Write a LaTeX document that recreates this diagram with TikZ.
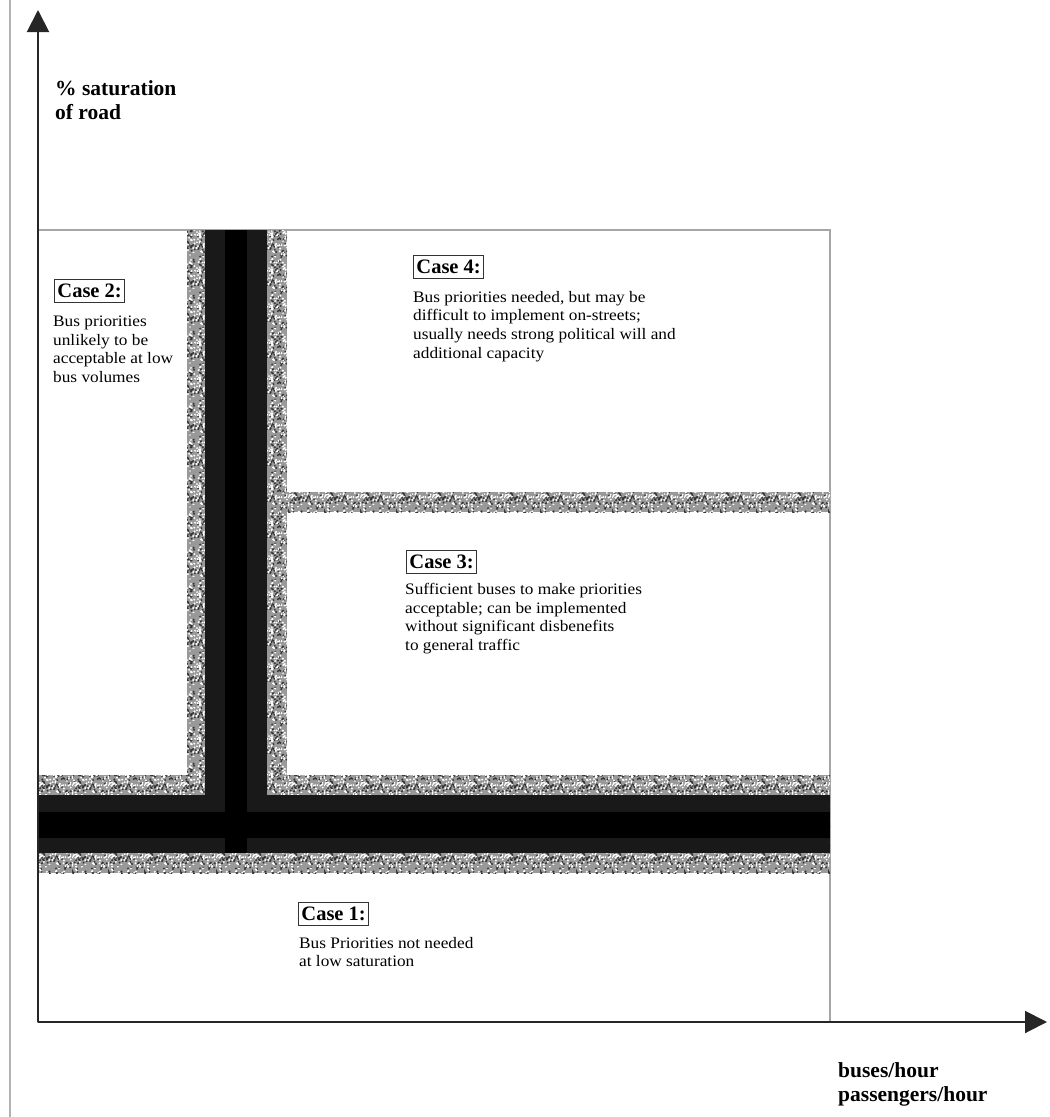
\documentclass[tikz,border=0pt]{standalone}
\usepackage{fontspec}
\setmainfont{Liberation Serif}
\newfontfamily\bodyfont[FakeStretch=1.08]{Liberation Serif}
\usetikzlibrary{arrows.meta,patterns}
\pgfmathsetseed{11}
\pgfdeclarepatternformonly{speckleB}{\pgfpointorigin}{\pgfpoint{36pt}{36pt}}{\pgfpoint{36pt}{36pt}}{%
  \foreach \i in {1,...,110}{%
    \pgfmathsetmacro\px{rnd*36}%
    \pgfmathsetmacro\py{rnd*36}%
    \pgfpathcircle{\pgfpoint{\px pt}{\py pt}}{1.1pt}%
  }%
  \pgfusepath{fill}}
\pgfdeclarepatternformonly{speckleW}{\pgfpointorigin}{\pgfpoint{36pt}{36pt}}{\pgfpoint{36pt}{36pt}}{%
  \foreach \i in {1,...,100}{%
    \pgfmathsetmacro\px{rnd*36}%
    \pgfmathsetmacro\py{rnd*36}%
    \pgfpathcircle{\pgfpoint{\px pt}{\py pt}}{1.1pt}%
  }%
  \pgfusepath{fill}}
\begin{document}
\begin{tikzpicture}[x=1pt,y=-1pt,
  axis/.style={line width=2pt, black!85, -{Triangle[length=22pt,width=22pt]}},
  frame/.style={draw=gray!70, line width=1.2pt},
  stipple/.style={preaction={fill=gray!80}, preaction={pattern=speckleB, pattern color=black!80}, pattern=speckleW, pattern color=white},
  core/.style={fill=black!90},
  casebox/.style={draw=black!80, line width=0.9pt, inner xsep=3pt, inner ysep=4pt,
    text height=14pt, text depth=1pt,
    font=\fontsize{20.5}{22}\selectfont\bfseries, anchor=north west},
  body/.style={font=\bodyfont\fontsize{16}{18.6}\selectfont, align=left, anchor=north west, inner sep=0pt},
  axlabel/.style={font=\fontsize{21.5}{24}\selectfont\bfseries, align=left, anchor=north west, inner sep=0pt}]
\useasboundingbox (0,0) rectangle (1050,1117);
% scan edge line
\draw[gray!60, line width=1.5pt] (10,0) -- (10,1117);
% frame
\draw[frame] (38,230) rectangle (830,1022);
% stippled bands
\path[stipple] (187,230) rectangle (287,873);
\path[stipple] (38,775) rectangle (830,873);
\path[stipple] (287,492) rectangle (830,512);
% dark cores
\fill[core] (205,230) rectangle (267,853);
\fill[core] (38,795) rectangle (830,853);
\fill[black] (225,230) rectangle (247,853);
\fill[black] (38,812) rectangle (830,838);
% axes
\coordinate (O) at (38,1022);
\coordinate (ytop) at (38,10);
\coordinate (xend) at (1047,1022);
\draw[axis] (O) -- (ytop);
\draw[axis] (O) -- (xend);
% axis labels
\node[axlabel] (ylab) at (55,80) {\% saturation\\of road};
\node[axlabel] (xlab) at (838,1062) {buses/hour\\passengers/hour};
% cases
\node[casebox] (c2) at (54,279) {Case 2:};
\node[body] (t2) at (53,316) {Bus priorities\\unlikely to be\\acceptable at low\\bus volumes};
\node[casebox] (c4) at (413,255) {Case 4:};
\node[body] (t4) at (413,291) {Bus priorities needed, but may be\\difficult to implement on-streets;\\usually needs strong political will and\\additional capacity};
\node[casebox] (c3) at (406,550) {Case 3:};
\node[body] (t3) at (405,583) {Sufficient buses to make priorities\\acceptable; can be implemented\\without significant disbenefits\\to general traffic};
\node[casebox] (c1) at (298,902) {Case 1:};
\node[body] (t1) at (299,937) {Bus Priorities not needed\\at low saturation};
\end{tikzpicture}
\end{document}
